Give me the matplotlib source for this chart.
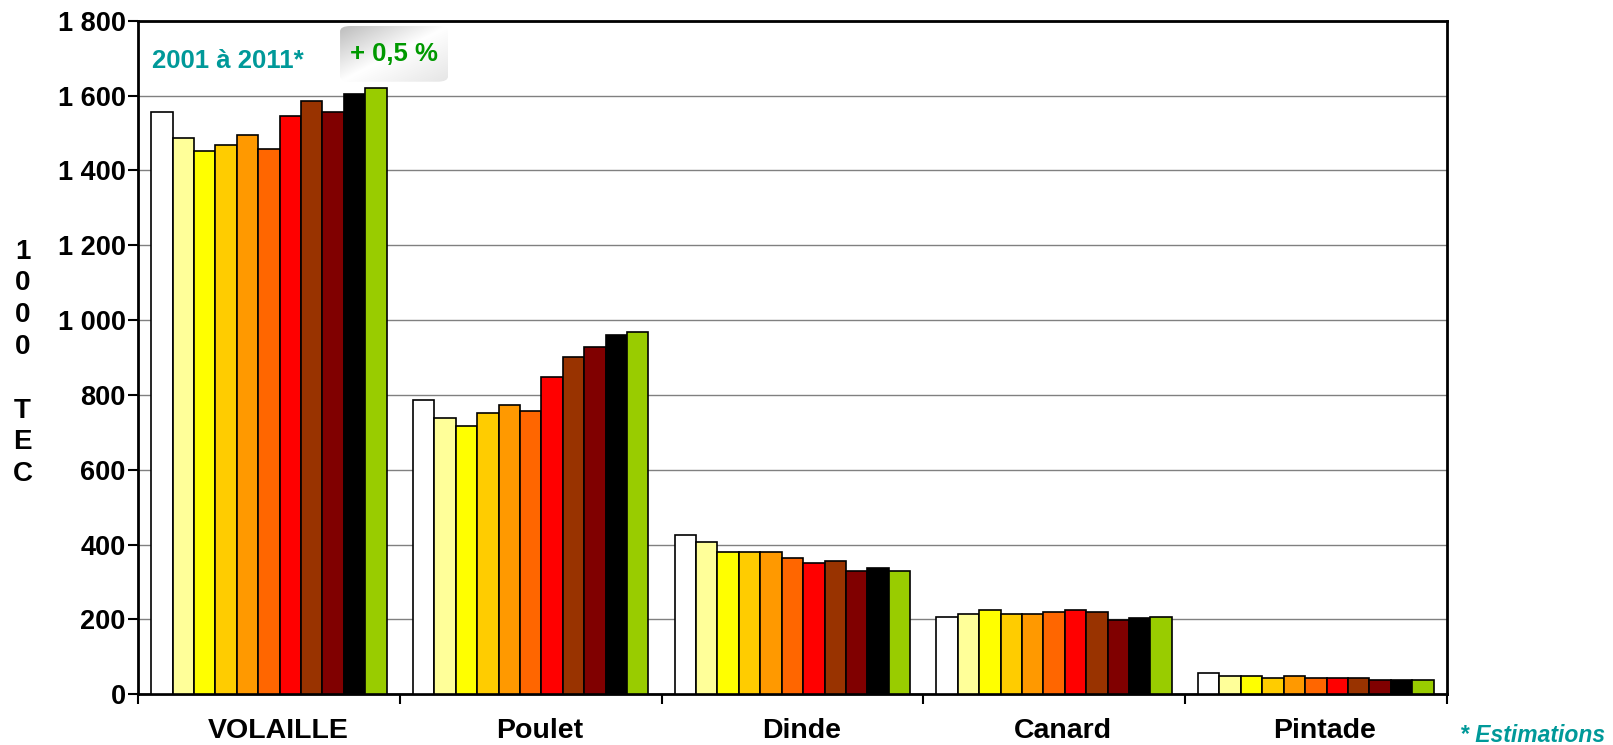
import numpy as np
import matplotlib
matplotlib.use("Agg")
import matplotlib.pyplot as plt
import matplotlib.transforms as mtransforms
from matplotlib.patches import FancyBboxPatch

plt.rcParams['font.family'] = ['Liberation Sans', 'DejaVu Sans']
plt.rcParams['font.weight'] = 'bold'

# data (1000 TEC), 2001 -> 2011
categories = ["VOLAILLE", "Poulet", "Dinde", "Canard", "Pintade"]
years = list(range(2001, 2012))
volaille = [1555, 1487, 1451, 1468, 1495, 1457, 1545, 1586, 1555, 1605, 1619]
poulet = [787, 738, 716, 752, 774, 757, 848, 900, 927, 960, 968]
dinde = [425, 406, 381, 379, 379, 365, 351, 357, 329, 337, 329]
canard = [206, 214, 225, 214, 214, 219, 225, 219, 198, 203, 206]
pintade = [58, 49, 49, 44, 49, 44, 44, 44, 38, 38, 38]
colors = ["#FFFFFF", "#FFFF99", "#FFFF00", "#FFCC00", "#FF9900", "#FF6600",
          "#FF0000", "#993300", "#800000", "#000000", "#99CC00"]
yticks = [0, 200, 400, 600, 800, 1000, 1200, 1400, 1600, 1800]
ytick_labels = ["0", "200", "400", "600", "800", "1 000", "1 200", "1 400", "1 600", "1 800"]

data = np.array([volaille, poulet, dinde, canard, pintade])

fig = plt.figure(figsize=(16.13, 7.45), dpi=100)
ax = fig.add_axes([0.0856, 0.0681, 0.8113, 0.9041])

w = 0.9 / len(years)
for j, yr in enumerate(years):
    x = np.arange(len(categories)) + 0.05 + w * (j + 0.5)
    ax.bar(x, data[:, j], width=w, color=colors[j], edgecolor="black",
           linewidth=1.2, zorder=3)

ax.set_xlim(0, len(categories))
ax.set_ylim(0, 1800)
ax.set_yticks(yticks)
ax.set_yticklabels(ytick_labels)
ax.yaxis.grid(True, color="#808080", linewidth=1, zorder=0)
ax.set_axisbelow(True)

ax.set_xticks(np.arange(len(categories) + 1))
ax.set_xticklabels([])
ax.set_xticks(np.arange(len(categories)) + 0.5, minor=True)
ax.set_xticklabels(categories, minor=True)
ax.tick_params(axis="x", which="major", direction="out", length=7, width=1.5)
ax.tick_params(axis="x", which="minor", length=0, pad=17, labelsize=20.5)
ax.tick_params(axis="y", direction="out", length=7, width=1.5, pad=2, labelsize=19.5)
for s in ax.spines.values():
    s.set_linewidth(2)

# category labels sit a little right of centre in the original
shift = mtransforms.ScaledTranslation(9 / 100, 0, fig.dpi_scale_trans)
for lbl in ax.get_xticklabels(minor=True):
    lbl.set_transform(lbl.get_transform() + shift)

# y label, stacked characters
fig.text(0.014, 0.513, "1\n0\n0\n0\n\nT\nE\nC", ha="center", va="center",
         fontsize=20, fontweight="bold", linespacing=1.29)

ax.text(0.0105, 0.94, "2001 à 2011*", transform=ax.transAxes, color="#009999",
        fontsize=18.5, fontweight="bold", ha="left", va="center")

# gradient box with the growth rate
bx0, bx1 = (340 - 138) / 1308.7, (448 - 138) / 1308.7
by1, by0 = (694.3 - 26) / 673.6, (694.3 - 81.7) / 673.6
box = FancyBboxPatch((bx0, by0), bx1 - bx0, by1 - by0, boxstyle="round,pad=0,rounding_size=0.008",
                     transform=ax.transAxes, facecolor="none", edgecolor="none", zorder=4)
ax.add_patch(box)
gx, gy = np.meshgrid(np.linspace(0, 1, 100), np.linspace(0, 1, 60))
t = (gx + gy) / 2
g = np.where(t < 0.5, 0.74 + (1 - 0.74) * t / 0.5, 1 - 0.1 * (t - 0.5) / 0.5)
img = ax.imshow(np.dstack([g, g, g]), extent=(bx0, bx1, by0, by1), transform=ax.transAxes,
                aspect="auto", zorder=4, origin="upper")
img.set_clip_path(box)
ax.text((bx0 + bx1) / 2, (by0 + by1) / 2, "+ 0,5 %", transform=ax.transAxes,
        color="#009900", fontsize=18.5, fontweight="bold", ha="center", va="center", zorder=5)

fig.text(0.995, 1 - 735 / 745, "* Estimations", color="#009999", fontsize=16.5,
         fontweight="bold", fontstyle="italic", ha="right", va="center")

fig.savefig("out.png", dpi=100)
